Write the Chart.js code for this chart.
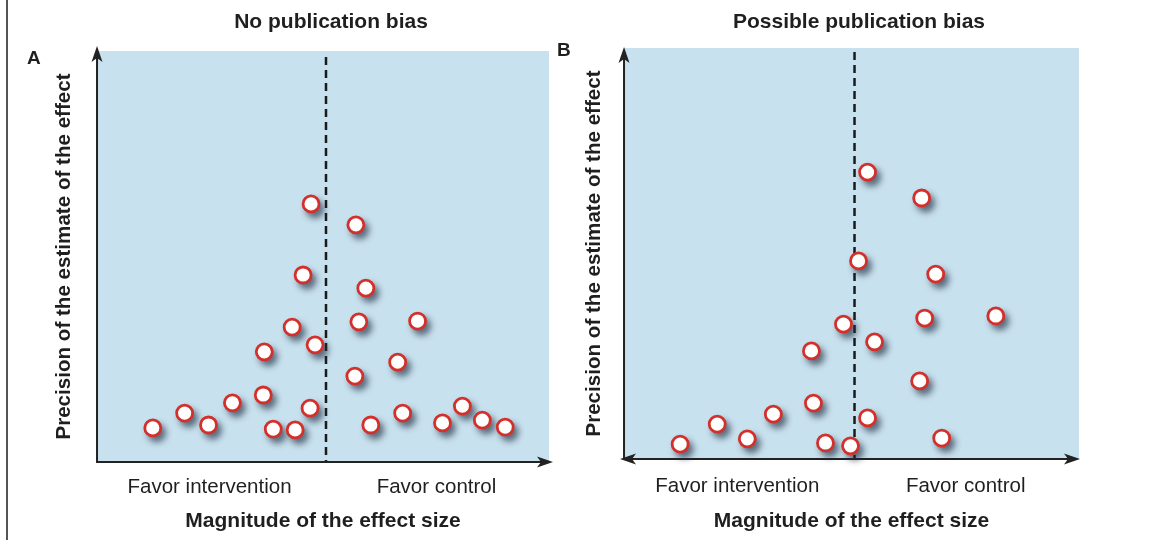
<!DOCTYPE html>
<html>
<head>
<meta charset="utf-8">
<script src="https://cdn.jsdelivr.net/npm/chart.js@4.4.1/dist/chart.umd.min.js"></script>
<style>
  html, body { margin: 0; padding: 0; background: #fff; }
  body { width: 1176px; height: 540px; position: relative; overflow: hidden; font-family: "Liberation Sans", Arial, sans-serif; color: #1f1f1f; }
  canvas { position: absolute; top: 0; }
  #chartA { left: 0; }
  #chartB { left: 544px; }
  .panel-label { position: absolute; font-weight: bold; font-size: 19px; line-height: 19px; }
  .panel-title { position: absolute; top: 10px; width: 300px; text-align: center; font-weight: bold; font-size: 21px; line-height: 21px; }
  .frame { position: absolute; left: 6px; top: 0; width: 2px; height: 540px; background: #555; }
</style>
</head>
<body>
<div class="frame"></div>
<canvas id="chartA" width="660" height="540"></canvas>
<canvas id="chartB" width="632" height="540"></canvas>
<div class="panel-title" style="left:181px">No publication bias</div>
<div class="panel-title" style="left:709px">Possible publication bias</div>
<div class="panel-label" style="left:27px;top:48px">A</div>
<div class="panel-label" style="left:557px;top:40px">B</div>
<script>
// effect size (0 = no effect) and precision
const effectA = [-0.87, -0.71, -0.59, -0.47, -0.315, -0.31, -0.265, -0.155, -0.08, -0.17, -0.055, -0.115, -0.075,
                 0.15, 0.20, 0.165, 0.46, 0.145, 0.36, 0.225, 0.385, 0.585, 0.685, 0.785, 0.90];
const precisionA = [0.083, 0.119, 0.090, 0.144, 0.163, 0.268, 0.080, 0.078, 0.131, 0.328, 0.285, 0.455, 0.628,
                    0.577, 0.423, 0.341, 0.343, 0.209, 0.243, 0.090, 0.119, 0.095, 0.136, 0.102, 0.085];

const effectB = [0.065, 0.335, 0.02, 0.405, 0.35, 0.705, -0.055, 0.10, -0.215, 0.325,
                 -0.205, 0.065, -0.405, -0.685, -0.535, -0.87, -0.145, -0.02, 0.435];
const precisionB = [0.698, 0.635, 0.482, 0.450, 0.343, 0.348, 0.328, 0.285, 0.263, 0.190,
                    0.136, 0.100, 0.109, 0.085, 0.049, 0.036, 0.039, 0.032, 0.051];

const tickValues = [-0.585, 0.555];
const tickLabels = ['Favor intervention', 'Favor control'];

const X_MIN = -1.15, X_MAX = 1.12;

Chart.defaults.font.family = '"Liberation Sans", Arial, sans-serif';
Chart.defaults.color = '#1f1f1f';

function arrow(ctx, tx, ty, dx, dy) {
    const len = 16, half = 5.5, notch = 4;
    const px = -dy, py = dx;
    ctx.beginPath();
    ctx.moveTo(tx, ty);
    ctx.lineTo(tx - dx * len + px * half, ty - dy * len + py * half);
    ctx.lineTo(tx - dx * (len - notch), ty - dy * (len - notch));
    ctx.lineTo(tx - dx * len - px * half, ty - dy * len - py * half);
    ctx.closePath();
    ctx.fill();
}

const funnelDecor = {
    id: 'funnelDecor',
    beforeDraw(chart) {
        const {ctx, chartArea: a} = chart;
        ctx.save();
        ctx.fillStyle = '#c8e1ee';
        ctx.fillRect(a.left, a.top, a.right - a.left, a.bottom - a.top);
        ctx.restore();
    },
    beforeDatasetsDraw(chart, args, opts) {
        const {ctx, chartArea: a} = chart;
        const x0 = chart.scales.x.getPixelForValue(0);
        ctx.save();
        // line of no effect
        ctx.strokeStyle = '#1a1a1a';
        ctx.lineWidth = 2.5;
        ctx.setLineDash([8, 5]);
        ctx.beginPath();
        ctx.moveTo(x0, a.top + opts.dashGap);
        ctx.lineTo(x0, a.bottom);
        ctx.stroke();
        ctx.setLineDash([]);

        // axes with arrow heads
        ctx.lineWidth = 2;
        ctx.strokeStyle = '#222';
        ctx.fillStyle = '#222';
        const yTip = a.top - opts.yTipGap;
        const xRight = a.right + opts.xTipGap;
        const xLeft = a.left - 4;
        ctx.beginPath();
        ctx.moveTo(a.left, a.bottom);
        ctx.lineTo(a.left, yTip + 8);
        ctx.stroke();
        ctx.beginPath();
        ctx.moveTo(opts.bothWays ? xLeft + 8 : a.left - 1, a.bottom);
        ctx.lineTo(xRight - 8, a.bottom);
        ctx.stroke();
        arrow(ctx, a.left, yTip, 0, -1);
        arrow(ctx, xRight, a.bottom, 1, 0);
        if (opts.bothWays) arrow(ctx, xLeft, a.bottom, -1, 0);

        // drop shadows only (the shape sits off-canvas, the shadow lands under each marker)
        const far = 3000;
        ctx.shadowColor = 'rgba(30, 45, 65, 0.65)';
        ctx.shadowBlur = 6;
        ctx.shadowOffsetX = far + 4;
        ctx.shadowOffsetY = 5;
        ctx.fillStyle = '#000';
        chart.getDatasetMeta(0).data.forEach(pt => {
            const r = pt.options.radius + pt.options.borderWidth / 2;
            ctx.beginPath();
            ctx.arc(pt.x - far, pt.y, r, 0, Math.PI * 2);
            ctx.fill();
        });
        ctx.restore();
    }
};

function makeFunnel(canvasId, cfg) {
    const points = cfg.effect.map((v, i) => ({x: v, y: cfg.precision[i]}));
    return new Chart(document.getElementById(canvasId), {
        type: 'scatter',
        data: {
            datasets: [{
                data: points,
                pointRadius: 8,
                pointHoverRadius: 8,
                pointBorderWidth: 2.8,
                pointBackgroundColor: '#ffffff',
                pointBorderColor: '#d4302b'
            }]
        },
        options: {
            responsive: false,
            animation: false,
            events: [],
            layout: {padding: {left: 0, right: cfg.rightPad, top: cfg.topPad, bottom: 0}},
            plugins: {
                legend: {display: false},
                tooltip: {enabled: false},
                funnelDecor: cfg.decor
            },
            scales: {
                x: {
                    type: 'linear',
                    min: X_MIN,
                    max: X_MAX,
                    afterBuildTicks: scale => {
                        scale.ticks = tickValues.map(v => ({value: v}));
                    },
                    ticks: {
                        callback: (v, i) => tickLabels[i],
                        font: {size: 20.5, lineHeight: 1},
                        padding: cfg.xPad.tick,
                        maxRotation: 0,
                        autoSkip: false
                    },
                    grid: {display: false, drawTicks: false},
                    border: {display: false},
                    title: {
                        display: true,
                        text: 'Magnitude of the effect size',
                        font: {size: 21, weight: 'bold', lineHeight: 1},
                        padding: {top: cfg.xPad.top, bottom: cfg.xPad.bottom}
                    }
                },
                y: {
                    type: 'linear',
                    min: 0,
                    max: 1,
                    ticks: {display: false},
                    grid: {display: false, drawTicks: false},
                    border: {display: false},
                    title: {
                        display: true,
                        text: 'Precision of the estimate of the effect',
                        font: {size: 20.6, weight: 'bold'},
                        padding: {top: cfg.yPad.top, bottom: cfg.yPad.bottom}
                    }
                }
            }
        },
        plugins: [funnelDecor]
    });
}

makeFunnel('chartA', {
    effect: effectA,
    precision: precisionA,
    rightPad: 111,
    topPad: 51,
    xPad: {tick: 14.75, top: -1.5, bottom: 8.5},
    yPad: {top: 52.1, bottom: 20.2},
    decor: {dashGap: 6, yTipGap: 5, xTipGap: 4, bothWays: false}
});

makeFunnel('chartB', {
    effect: effectB,
    precision: precisionB,
    rightPad: 97,
    topPad: 48,
    xPad: {tick: 17.25, top: -3.5, bottom: 8.5},
    yPad: {top: 37.6, bottom: 17.7},
    decor: {dashGap: 4, yTipGap: 1, xTipGap: 1, bothWays: true}
});
</script>
</body>
</html>
